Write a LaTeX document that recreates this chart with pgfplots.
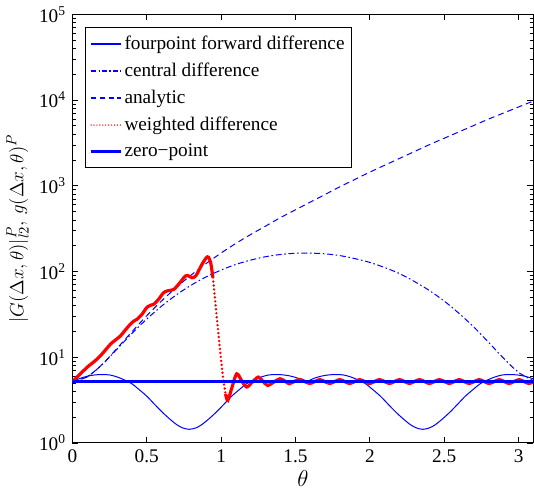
\documentclass[border=0pt]{standalone}
\usepackage{fontspec}
\setmainfont{Liberation Serif}
\usepackage{pgfplots}
\pgfplotsset{compat=1.18}
\begin{document}
\fontsize{14.5}{17}\selectfont
\begin{tikzpicture}
\begin{axis}[
  scale only axis, width=347pt, height=322.5pt,
  xmin=0, xmax=3.1, ymin=1, ymax=1e5, ymode=log,
  xtick={0,0.5,1,1.5,2,2.5,3},
  xticklabels={0,0.5,1,1.5,2,2.5,3},
  ytick={1,10,100,1000,10000,100000},
  yticklabels={10\textsuperscript{0},10\textsuperscript{1},10\textsuperscript{2},10\textsuperscript{3},10\textsuperscript{4},10\textsuperscript{5}},
  tick label style={font=\fontsize{14.5}{16}\selectfont},
  xlabel style={font=\fontsize{17}{20}\selectfont, yshift=4pt},
  ylabel style={font=\fontsize{15}{18}\selectfont, yshift=-2pt},
  xlabel={$\theta$},
  ylabel={$|G(\Delta x,\theta)|_{l2}^{P},\, g(\Delta x,\theta)^{P}$},
  axis line style={line width=0.8pt},
  every tick/.style={black, line width=0.6pt},
  major tick length=4.5pt, minor tick length=2.5pt,
  legend style={at={(0.028,0.97)}, anchor=north west, line width=0.8pt,
    font=\fontsize{14.5}{16}\selectfont, row sep=4pt, inner xsep=3pt, inner ysep=4pt},
  legend cell align=left,
  legend image code/.code={\draw[#1] (0cm,0cm) -- (0.78cm,0cm);},
]
\addlegendimage{color=blue, draw=blue, line width=0.9pt, solid}
\addlegendentry{fourpoint forward difference}
\addlegendimage{color=blue, draw=blue, line width=0.9pt, dash pattern=on 4pt off 1.6pt on 1pt off 1.6pt}
\addlegendentry{central difference}
\addlegendimage{color=blue, draw=blue, line width=0.9pt, dash pattern=on 4pt off 2.6pt}
\addlegendentry{analytic}
\addlegendimage{color=red, draw=red, line width=1.1pt, line cap=round, dash pattern=on 0pt off 2.2pt}
\addlegendentry{weighted difference}
\addlegendimage{color=blue, draw=blue, line width=1.9pt, solid}
\addlegendentry{zero−point}
% fourpoint forward difference
\addplot[draw=blue, line width=0.75pt, smooth, forget plot] coordinates {
(0,5.20)(0.05,5.65)(0.10,6.00)(0.15,6.21)(0.20,6.28)(0.25,6.21)(0.30,5.89)(0.35,5.43)(0.40,4.90)(0.45,4.17)(0.50,3.51)(0.55,2.85)(0.60,2.32)(0.65,1.93)(0.70,1.64)(0.74,1.50)(0.785,1.44)
(0.831,1.50)(0.871,1.64)(0.921,1.93)(0.971,2.32)(1.021,2.85)(1.071,3.51)(1.121,4.17)(1.171,4.90)(1.221,5.43)(1.271,5.89)(1.321,6.21)(1.371,6.28)(1.421,6.21)(1.471,6.00)(1.521,5.65)(1.571,5.20)
(1.621,5.65)(1.671,6.00)(1.721,6.21)(1.771,6.28)(1.821,6.21)(1.871,5.89)(1.921,5.43)(1.971,4.90)(2.021,4.17)(2.071,3.51)(2.121,2.85)(2.171,2.32)(2.221,1.93)(2.271,1.64)(2.311,1.50)(2.356,1.44)
(2.402,1.50)(2.442,1.64)(2.492,1.93)(2.542,2.32)(2.592,2.85)(2.642,3.51)(2.692,4.17)(2.742,4.90)(2.792,5.43)(2.842,5.89)(2.892,6.21)(2.942,6.28)(2.992,6.21)(3.042,6.00)(3.092,5.65)(3.142,5.20)
};
% central difference
\addplot[draw=blue, line width=0.75pt, smooth, dash pattern=on 4.5pt off 2pt on 1.2pt off 2pt, forget plot] coordinates {
(0,5.20)(0.1,5.92)(0.2,8.20)(0.3,12.42)(0.4,18.92)(0.5,27.9)(0.6,39.5)(0.7,53.6)(0.8,69.5)(0.9,86.7)(1.0,104.0)
(1.1,121.1)(1.2,136.1)(1.3,148.9)(1.4,158.1)(1.5,163.3)(1.5708,164.4)(1.6,164.1)(1.7,160.7)(1.8,153.1)(1.9,141.3)(2.0,127.6)
(2.1,111.2)(2.2,94.4)(2.3,76.4)(2.4,60.0)(2.5,45.2)(2.6,32.4)(2.7,22.4)(2.8,14.8)(2.9,9.68)(3.0,6.65)(3.1,5.32)
};
% analytic
\addplot[draw=blue, line width=0.75pt, smooth, dash pattern=on 4.5pt off 3pt, forget plot] coordinates {
(0,5.20)(0.1,5.92)(0.2,8.24)(0.3,12.68)(0.4,19.82)(0.5,30.5)(0.6,45.4)(0.7,65.5)(0.8,91.4)(0.9,124.2)(1.0,164.4)
(1.1,213.3)(1.2,271.0)(1.3,339.6)(1.4,426.6)(1.5,524.8)(1.6,645.7)(1.7,794.3)(1.8,977.2)(1.9,1189)(2.0,1445)
(2.1,1738)(2.2,2089)(2.3,2512)(2.4,3020)(2.5,3589)(2.6,4266)(2.7,5070)(2.8,6026)(2.9,7079)(3.0,8318)(3.1,9772)
};
% weighted difference
\addplot[draw=red, line width=2.4pt, smooth, forget plot] coordinates {
(0.000,5.20)(0.050,6.31)(0.100,7.66)(0.150,9.00)(0.190,10.45)(0.225,12.3)(0.257,14.26)(0.290,15.9)(0.324,17.78)(0.357,20.9)
(0.390,24.3)(0.412,26.3)(0.435,27.8)(0.470,32.0)(0.500,38.0)(0.525,40.3)(0.547,41.5)(0.580,47.5)(0.614,56.8)(0.648,60.0)
(0.681,61.7)(0.720,73.0)(0.759,88.5)(0.782,88.8)(0.804,84.7)(0.830,89.1)(0.870,120.2)(0.900,144.5)(0.915,146.9)(0.930,125.9)(0.945,85.0)
};
\addplot[draw=red, line width=2.0pt, line cap=round, dash pattern=on 0pt off 3pt, forget plot] coordinates {
(0.945,85.0)(0.960,45.4)(0.982,18.6)(1.000,9.12)(1.015,5.37)(1.030,3.72)
};
\addplot[draw=red, line width=2.4pt, smooth, forget plot] coordinates {
(1.030,3.72)(1.045,3.14)(1.075,4.57)(1.105,6.40)(1.140,5.25)(1.172,4.49)(1.210,5.13)(1.250,5.86)(1.280,5.25)(1.313,4.69)
(1.355,5.13)(1.395,5.60)(1.430,5.25)(1.458,4.90)(1.495,5.25)(1.530,5.50)(1.563,5.20)(1.596,4.93)
(1.630,5.20)(1.663,5.48)(1.697,5.20)(1.730,4.93)(1.764,5.20)(1.797,5.48)(1.831,5.20)(1.864,4.93)(1.898,5.20)(1.931,5.48)
(1.965,5.20)(1.998,4.93)(2.032,5.20)(2.065,5.48)(2.099,5.20)(2.132,4.93)(2.166,5.20)(2.199,5.48)(2.233,5.20)(2.266,4.93)
(2.300,5.20)(2.333,5.48)(2.367,5.20)(2.400,4.93)(2.434,5.20)(2.467,5.48)(2.501,5.20)(2.534,4.93)(2.568,5.20)(2.601,5.48)
(2.635,5.20)(2.668,4.93)(2.702,5.20)(2.735,5.48)(2.769,5.20)(2.802,4.93)(2.836,5.20)(2.869,5.48)(2.903,5.20)(2.936,4.93)
(2.970,5.20)(3.003,5.48)(3.037,5.20)(3.070,4.93)(3.104,5.20)(3.137,5.45)
};
% zero-point
\addplot[draw=blue, line width=1.9pt, forget plot] coordinates {(0,5.2)(3.142,5.2)};
\end{axis}
\end{tikzpicture}
\end{document}
